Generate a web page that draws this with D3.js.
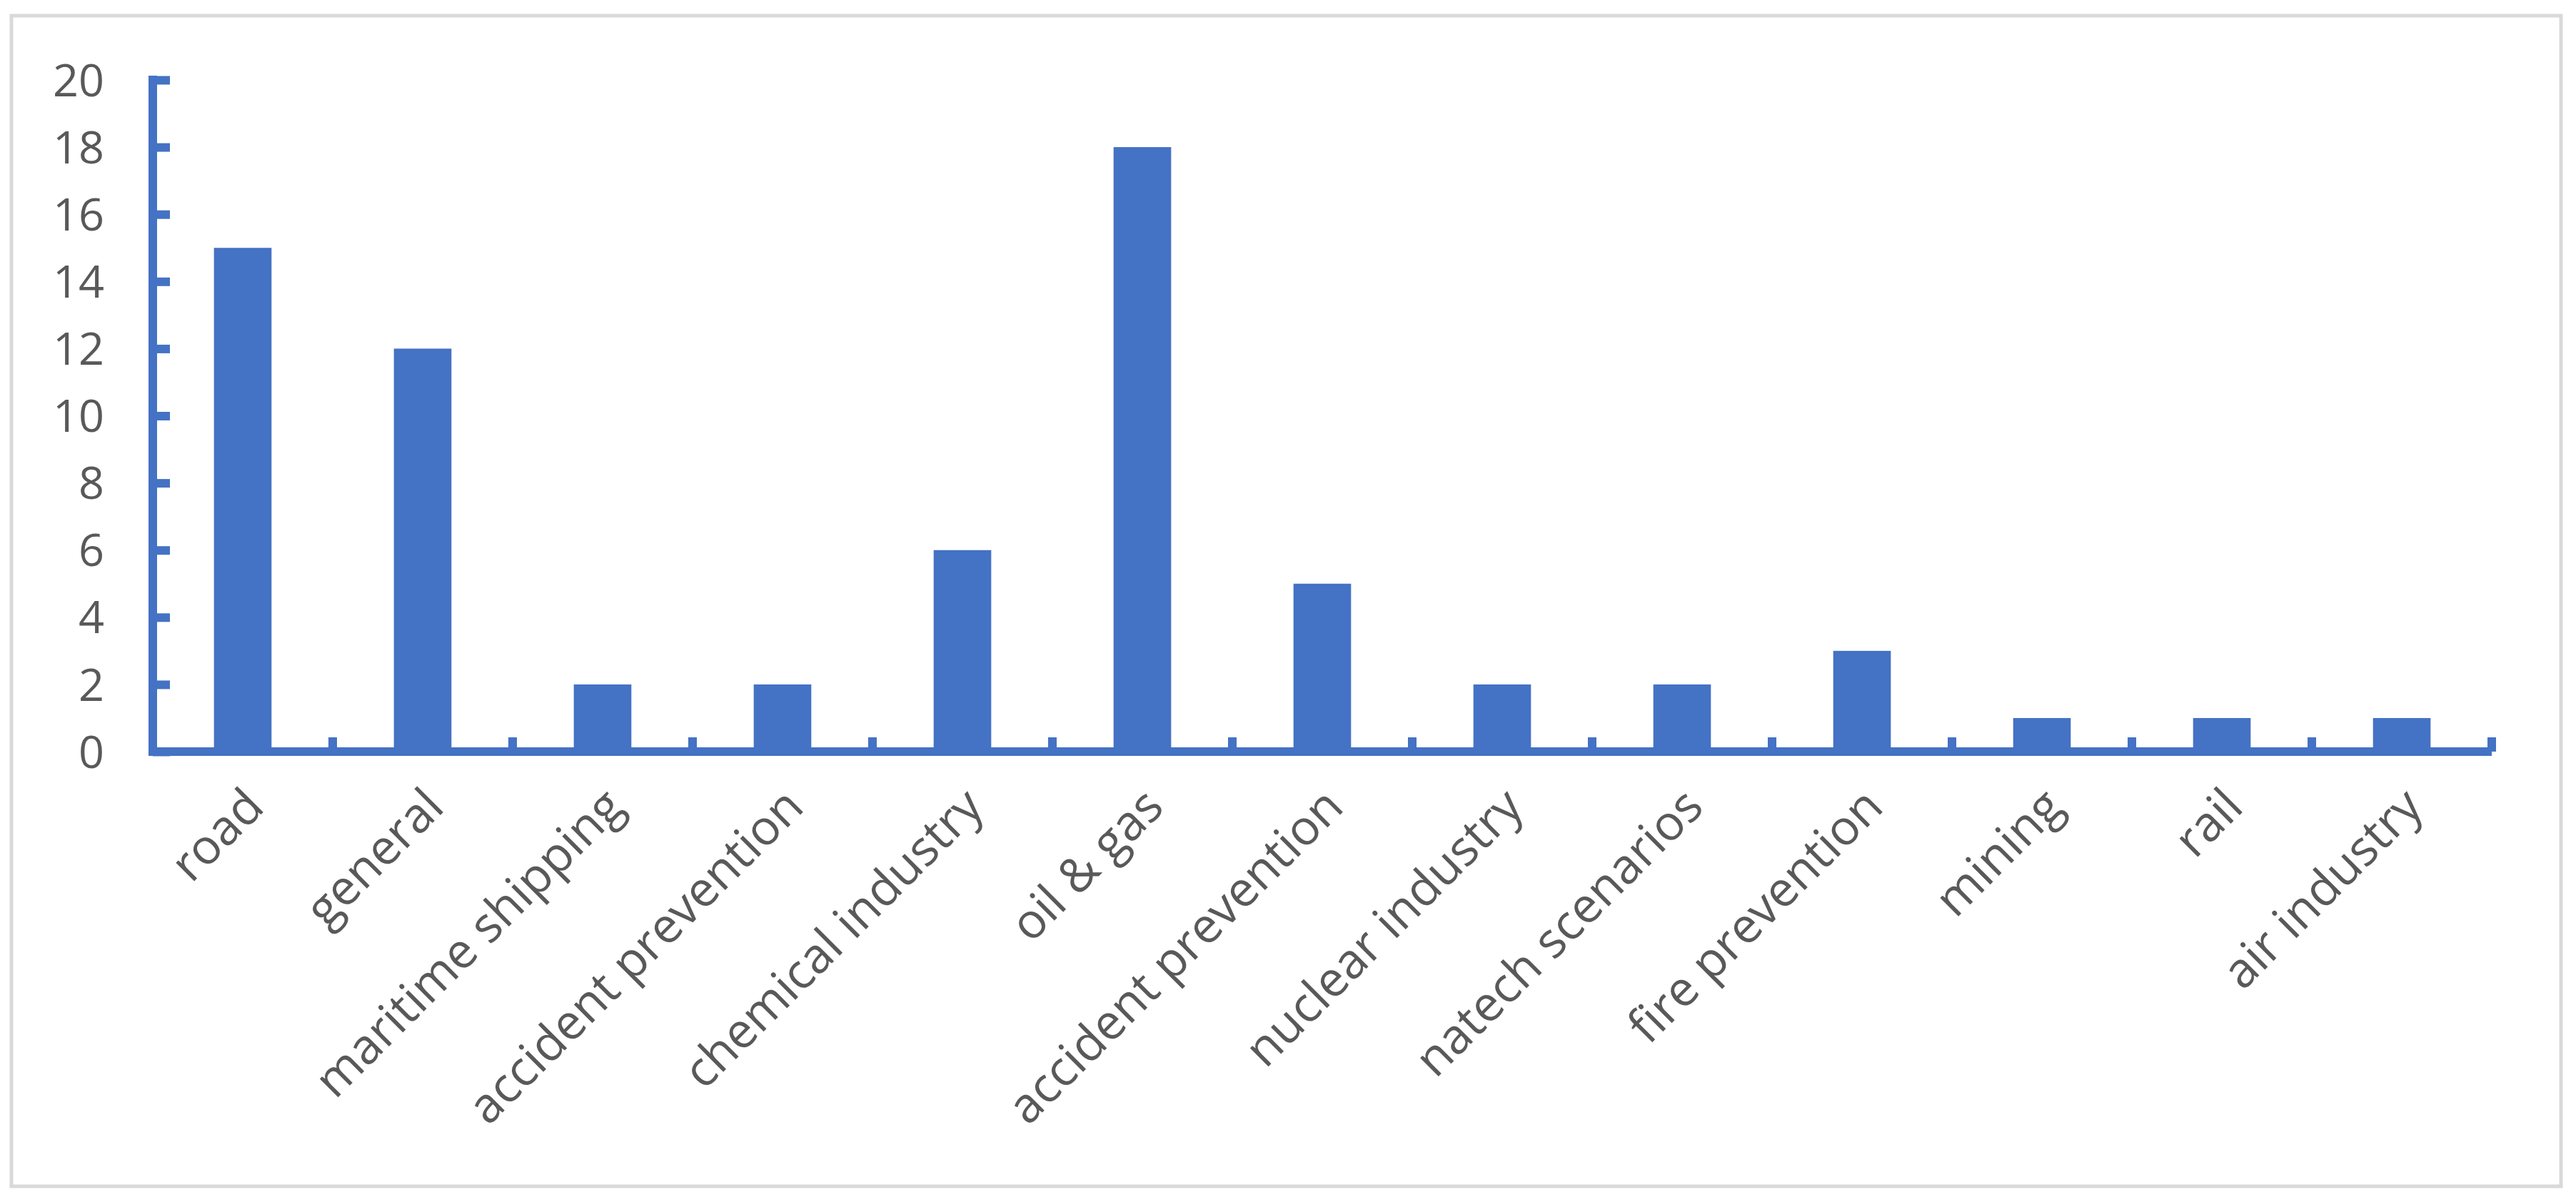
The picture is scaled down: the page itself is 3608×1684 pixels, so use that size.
<!DOCTYPE html><html><head><meta charset="utf-8"><script src="https://cdn.jsdelivr.net/npm/d3@7"></script>
<style>body{margin:0;background:#fff}</style></head><body><svg id="c" width="3608" height="1684"></svg>
<script>
const categories=["road","general","maritime shipping","accident prevention","chemical industry","oil & gas","accident prevention","nuclear industry","natech scenarios","fire prevention","mining","rail","air industry"];
const values=[15,12,2,2,6,18,5,2,2,3,1,1,1];
const yTicks=[0,2,4,6,8,10,12,14,16,18,20];
const svg=d3.select("#c");
const col="#4472C4", txt="#595959", font="'Open Sans', 'Noto Sans', sans-serif";
svg.append("rect").attr("x",16).attr("y",22).attr("width",3571).attr("height",1640).attr("fill","#fff").attr("stroke","#d9d9d9").attr("stroke-width",5);
const L=214,R=3490,T=112,B=1053;
const x=d3.scaleBand().domain(d3.range(categories.length)).range([L,R]).paddingInner(0.68).paddingOuter(0.34);
const y=d3.scaleLinear().domain([0,20]).range([B,T]);
svg.selectAll(".bar").data(values).enter().append("rect").attr("x",(d,i)=>x(i)).attr("width",x.bandwidth()).attr("y",d=>y(d)).attr("height",d=>B-y(d)).attr("fill",col);
const ya=svg.append("g").attr("transform",`translate(${L},0)`).call(d3.axisRight(y).tickValues(yTicks).tickSize(24).tickFormat(""));
ya.selectAll("line").attr("stroke",col).attr("stroke-width",12);
ya.select(".domain").remove();
svg.append("line").attr("x1",L).attr("x2",L).attr("y1",T-6).attr("y2",B+6).attr("stroke",col).attr("stroke-width",12);
svg.selectAll(".yl").data(yTicks).enter().append("text").attr("x",146).attr("y",d=>y(d)).attr("dy","0.36em").attr("text-anchor","end").attr("font-family",font).attr("font-size",63).attr("fill",txt).text(d=>d);
const step=x.step();
const bounds=d3.range(1,categories.length+1).map(i=>L+i*step);
svg.append("line").attr("x1",L).attr("x2",R).attr("y1",B).attr("y2",B).attr("stroke",col).attr("stroke-width",12);
svg.selectAll(".xt").data(bounds).enter().append("line").attr("x1",d=>d).attr("x2",d=>d).attr("y1",B).attr("y2",B-20).attr("stroke",col).attr("stroke-width",12);
svg.selectAll(".xl").data(categories).enter().append("text")
 .attr("transform",(d,i)=>`translate(${x(i)+x.bandwidth()/2+16},${B+64}) rotate(-45)`)
 .attr("text-anchor","end").attr("dy","0.35em").attr("font-family",font).attr("font-size",68).attr("fill",txt).text(d=>d);
</script></body></html>
